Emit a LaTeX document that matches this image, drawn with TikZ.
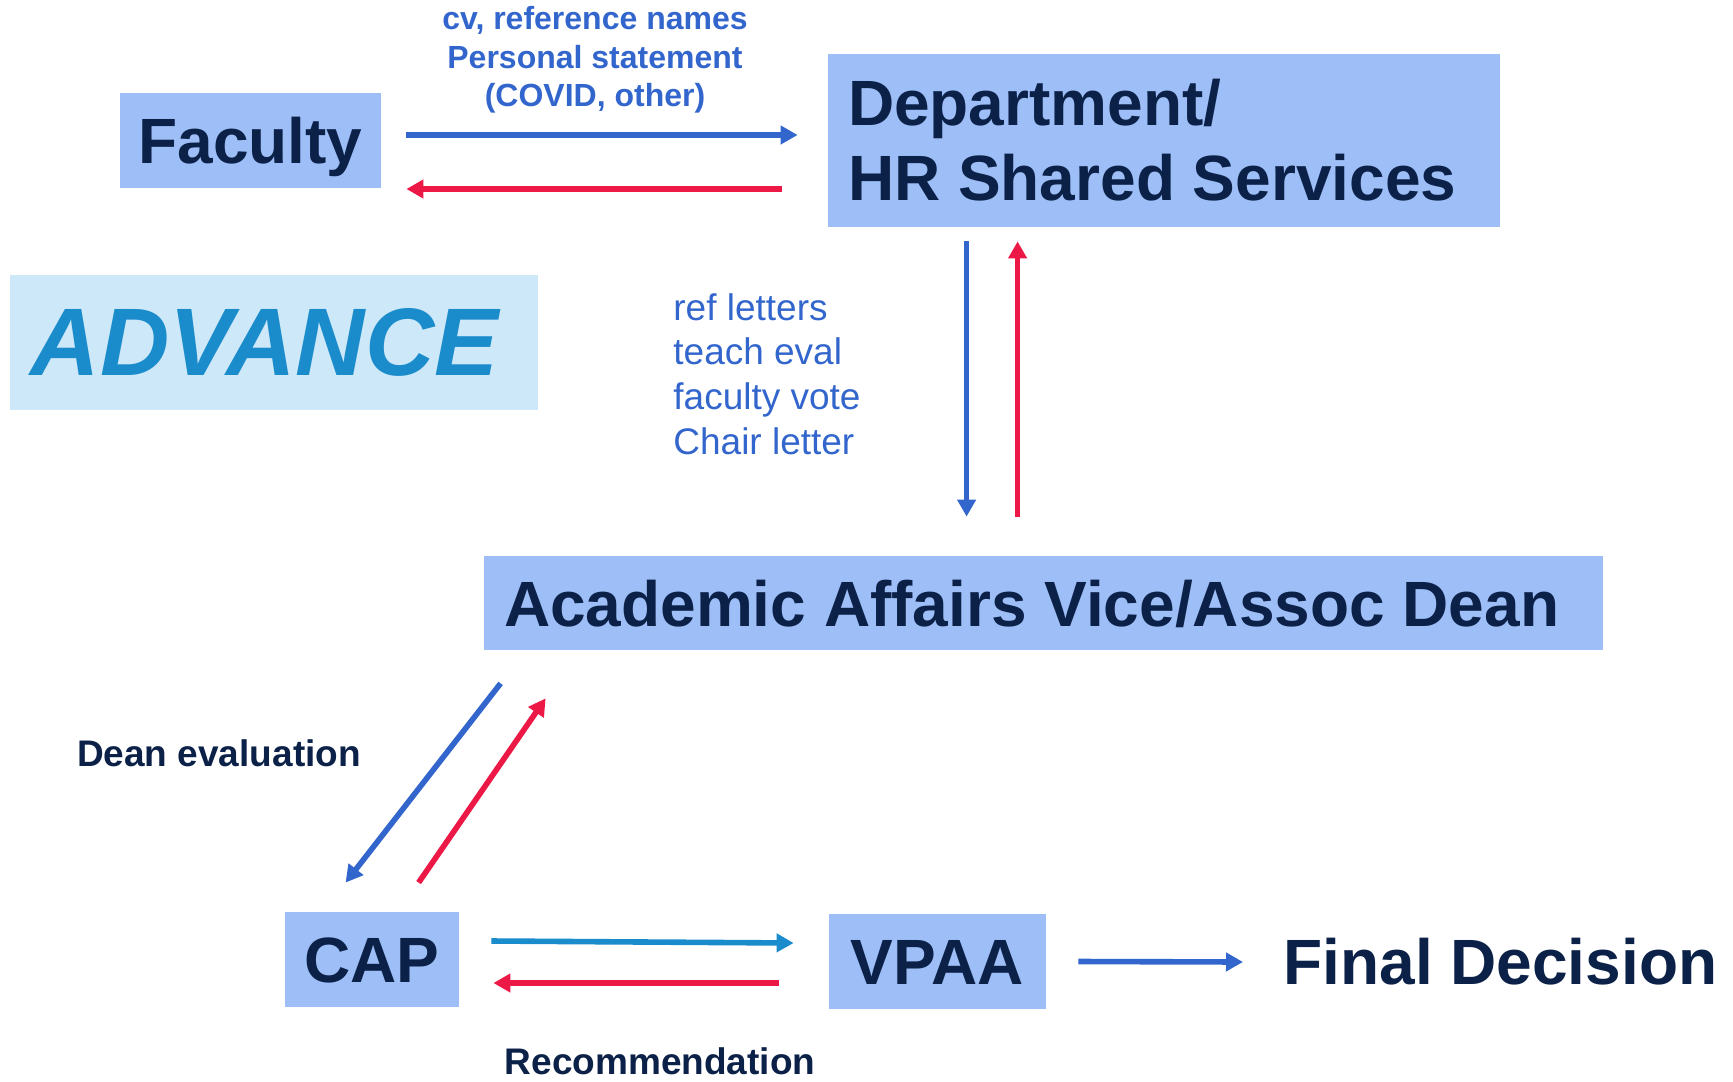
\documentclass[tikz,border=0pt]{standalone}
\usepackage{fontspec}
\setmainfont{Liberation Sans}
\usepackage{tikz}
\usetikzlibrary{
  arrows.meta,  % Triangle 箭头
  positioning   % 节点相对定位
}
\definecolor{boxblue}{RGB}{157,190,246}
\definecolor{navy}{RGB}{12,33,72}
\definecolor{flowblue}{RGB}{51,102,204}
\definecolor{flowred}{RGB}{236,25,70}
\definecolor{flowteal}{RGB}{26,139,203}
\definecolor{advbg}{RGB}{205,232,248}
\tikzset{
  unit box/.style={
    fill=boxblue,
    text=navy,
    inner sep=0pt,
    font=\bfseries\fontsize{32}{37.6}\selectfont
  },
  cap only/.style={  % 单行方框按大写字母高度居中
    text height=23pt,
    text depth=0pt
  },
  send/.style={
    -{Triangle[length=8.5pt,width=9pt]},
    line width=2.8pt,
    color=flowblue
  },
  back/.style={
    -{Triangle[length=8.5pt,width=9pt]},
    line width=2.8pt,
    color=flowred
  },
  note/.style={
    font=\bfseries\fontsize{18.5}{22}\selectfont,
    text=navy,
    inner sep=0pt
  }
}

\begin{document}
\begin{tikzpicture}[x=0.5pt, y=-0.5pt] % 以像素为单位，y 轴向下
  \useasboundingbox (0,0) rectangle (1733,1081); % 固定画布大小

  % 各个办理环节（浅蓝色方框）
  \node[unit box, cap only, minimum width=130.5pt, minimum height=47.5pt] (fac) at (250.5,140.5) {Faculty};
  \node[unit box, text width=316pt, inner xsep=10pt, align=flush left, minimum height=86.5pt] (dept) at (1164,140.5) {Department/\\HR Shared Services};
  \node[unit box, cap only, text width=539.5pt, inner xsep=10pt, align=flush left, minimum height=47pt] (acad) at (1043.5,603) {Academic Affairs Vice/Assoc Dean};
  \node[unit box, cap only, minimum width=87pt, minimum height=47.5pt] (cap) at (372,959.5) {CAP};
  \node[unit box, cap only, minimum width=108.5pt, minimum height=47.5pt] (vpaa) at (937.5,961.5) {VPAA};
  \node[anchor=west, inner sep=0pt, text=navy, font=\bfseries\fontsize{32}{37.6}\selectfont] (final) at (1283,962) {Final Decision};

  % 左侧标题块
  \node[fill=advbg, text=flowteal, font=\bfseries\itshape\fontsize{48}{56}\selectfont,
        text width=243pt, inner xsep=10.5pt, inner ysep=0pt, align=flush left, minimum height=67.5pt] (adv) at (274,342.5) {ADVANCE};

  % 材料说明文字
  \node[font=\bfseries\fontsize{16}{19.3}\selectfont, text=flowblue, align=center, inner sep=0pt] (docs) at (595,60) {cv, reference names\\Personal statement\\(COVID, other)};
  \node[font=\fontsize{18.5}{22.3}\selectfont, text=flowblue, align=flush left, anchor=west, inner sep=0pt] (files) at (673,374) {ref letters\\teach eval\\faculty vote\\Chair letter};
  \node[note] (deaneval) at (219,753) {Dean evaluation};
  \node[note] (recomm) at (660,1061) {Recommendation};

  % 往返箭头：蓝色送出，红色退回
  \draw[send] ([shift={(25,-5.5)}]fac.east) -- ([shift={(-30,-5.5)}]dept.west);
  \draw[back] ([shift={(-46,48.5)}]dept.west) -- ([shift={(25,48.5)}]fac.east);
  \draw[send] ([shift={(139,14)}]dept.south west) -- ([shift={(483,-39)}]acad.north west);
  \draw[back] ([shift={(534,-39)}]acad.north west) -- ([shift={(190,14)}]dept.south west);
  \draw[send] ([shift={(17,33)}]acad.south west) -- ([shift={(61,-29)}]cap.north west);
  \draw[back] ([shift={(134,-29)}]cap.north west) -- ([shift={(62,48)}]acad.south west);
  \draw[send, color=flowteal] ([shift={(32,-18.5)}]cap.east) -- ([shift={(-35,-18.5)}]vpaa.west);
  \draw[back] ([shift={(-50,21.5)}]vpaa.west) -- ([shift={(34,23.5)}]cap.east);
  \draw[send] ([shift={(32,0)}]vpaa.east) -- ([shift={(-40,0)}]final.west);

\end{tikzpicture}
\end{document}
